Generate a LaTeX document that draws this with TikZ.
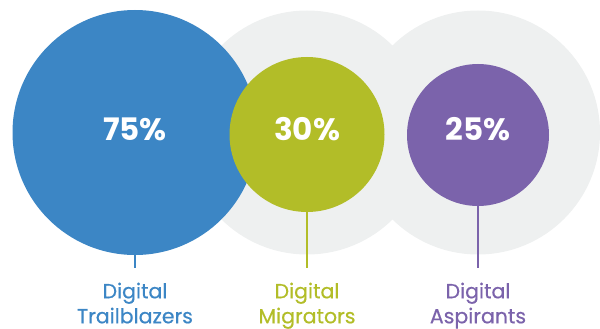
\documentclass[tikz,border=0pt]{standalone}
\usepackage{fontspec}
\setmainfont{Poppins}
\newfontfamily\labfont{Poppins}[FakeBold=0.5]
\definecolor{cblue}{HTML}{3C86C5}
\definecolor{cgreen}{HTML}{B2BD28}
\definecolor{cpurple}{HTML}{7B63AB}
\definecolor{cgrey}{HTML}{EEF0F0}
\tikzset{
  disc/.style={circle, inner sep=0pt, outer sep=0pt},
  pct/.style={anchor=base, text=white, font=\fontsize{31}{31}\selectfont\bfseries},
  lab/.style={anchor=base, font=\fontsize{20.5}{20.5}\selectfont\labfont},
  stem/.style={line width=2pt}
}
\begin{document}
\begin{tikzpicture}[x=1pt,y=-1pt]
\useasboundingbox (0,0) rectangle (600,329);
\node[disc, fill=cgrey, minimum size=244pt] (g2) at (478,132.5) {};
\node[disc, fill=cgrey, minimum size=244pt] (g1) at (307,132.5) {};
\node[disc, fill=cblue, minimum size=245pt] (blue) at (135,132.5) {};
\node[disc, fill=cgreen, minimum size=155pt] (green) at (307,134.5) {};
\node[disc, fill=cpurple, minimum size=142pt] (purple) at (478,135) {};
\node[pct] (t1) at (135,140.7) {75\%};
\node[pct] (t2) at (307,140.7) {30\%};
\node[pct] (t3) at (478,140.7) {25\%};
\coordinate (e1) at (135,268);
\coordinate (e2) at (307,268);
\coordinate (e3) at (478,268);
\draw[stem, cblue] (blue.south) -- (e1);
\draw[stem, cgreen] (green.south) -- (e2);
\draw[stem, cpurple] (purple.south) -- (e3);
\node[lab, text=cblue] (l1a) at (135,298.3) {Digital};
\node[lab, text=cblue] (l1b) at (135,323.3) {Trailblazers};
\node[lab, text=cgreen] (l2a) at (307,298.3) {Digital};
\node[lab, text=cgreen] (l2b) at (307,323.3) {Migrators};
\node[lab, text=cpurple] (l3a) at (478,298.3) {Digital};
\node[lab, text=cpurple] (l3b) at (478,323.3) {Aspirants};
\end{tikzpicture}
\end{document}
